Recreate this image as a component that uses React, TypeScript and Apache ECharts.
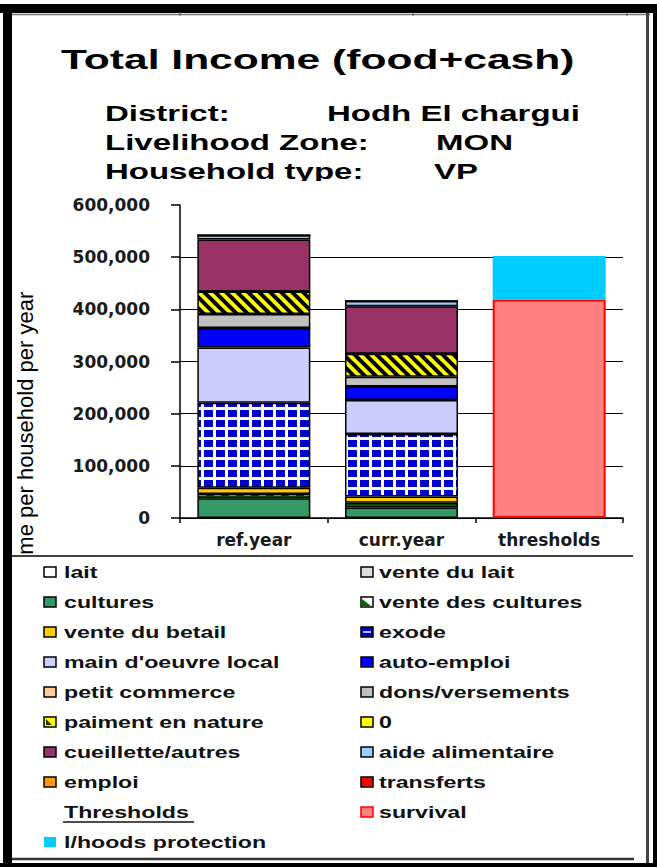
import React, { useEffect, useRef } from 'react';
import * as echarts from 'echarts';

// ---------- data ----------
const categories = ['ref.year', 'curr.year', 'thresholds'];

const lait = [0, 0];
const venteDuLait = [0, 0];
const cultures = [38000, 20000];
const venteDesCultures = [8000, 9000];
const venteDuBetail = [12000, 12000];
const exode = [163000, 120000];
const mainDoeuvreLocal = [106000, 65000];
const autoEmploi = [37000, 26000];
const petitCommerce = [0, 0];
const donsVersements = [27000, 19000];
const paimentEnNature = [43000, 44000];
const zeroSeries = [0, 0];
const cueilletteAutres = [100000, 91000];
const aideAlimentaire = [8000, 10000];
const emploi = [0, 0];
const transferts = [0, 0];

const survival = [419000];
const lhoodsProtection = [83000];

const yTickValues = [0, 100000, 200000, 300000, 400000, 500000, 600000];
const yTickLabels = ['0', '100,000', '200,000', '300,000', '400,000', '500,000', '600,000'];

const incomeSeries: [string, number[]][] = [
  ['lait', lait],
  ['vente du lait', venteDuLait],
  ['cultures', cultures],
  ['vente des cultures', venteDesCultures],
  ['vente du betail', venteDuBetail],
  ['exode', exode],
  ["main d'oeuvre local", mainDoeuvreLocal],
  ['auto-emploi', autoEmploi],
  ['petit commerce', petitCommerce],
  ['dons/versements', donsVersements],
  ['paiment en nature', paimentEnNature],
  ['0', zeroSeries],
  ['cueillette/autres', cueilletteAutres],
  ['aide alimentaire', aideAlimentaire],
  ['emploi', emploi],
  ['transferts', transferts],
];

const thresholdSeries: [string, number[]][] = [
  ['survival', survival],
  ['l/hoods protection', lhoodsProtection],
];

const legendLeft = ['lait', 'cultures', 'vente du betail', "main d'oeuvre local", 'petit commerce', 'paiment en nature', 'cueillette/autres', 'emploi'];
const legendRight = ['vente du lait', 'vente des cultures', 'exode', 'auto-emploi', 'dons/versements', '0', 'aide alimentaire', 'transferts', 'survival'];

// ---------- styles ----------
const colorOf: Record<string, string> = {
  'lait': '#FFFFFF',
  'vente du lait': '#DDDDDD',
  'cultures': '#339966',
  'vente des cultures': '#006600',
  'vente du betail': '#FFCC00',
  'exode': '#0000CC',
  "main d'oeuvre local": '#CCCCFF',
  'auto-emploi': '#0000FF',
  'petit commerce': '#FFCC99',
  'dons/versements': '#C0C0C0',
  'paiment en nature': '#FFFF00',
  '0': '#FFFF00',
  'cueillette/autres': '#993366',
  'aide alimentaire': '#99CCFF',
  'emploi': '#FF9900',
  'transferts': '#FF0000',
  'survival': '#FF8080',
  'l/hoods protection': '#00CCFF',
};

function makeTile(w: number, h: number, draw: (c: CanvasRenderingContext2D) => void): HTMLCanvasElement {
  const cv = document.createElement('canvas');
  cv.width = w;
  cv.height = h;
  const c = cv.getContext('2d') as CanvasRenderingContext2D;
  draw(c);
  return cv;
}

function patternFills(): Record<string, any> {
  const exodeTile = makeTile(12, 10, (c) => {
    c.fillStyle = '#FFFFFF';
    c.fillRect(0, 0, 12, 10);
    c.fillStyle = '#0000CC';
    c.fillRect(0, 0, 9, 7);
  });
  const P = 11;
  const paimentTile = makeTile(P, P, (c) => {
    c.fillStyle = '#FFFF00';
    c.fillRect(0, 0, P, P);
    c.strokeStyle = '#000000';
    c.lineWidth = 4;
    for (let k = -1; k <= 1; k++) {
      c.beginPath();
      c.moveTo(k * P - 2, -2);
      c.lineTo(k * P + P + 2, P + 2);
      c.stroke();
    }
  });
  const vdcTile = makeTile(15, 6, (c) => {
    c.fillStyle = '#006600';
    c.fillRect(0, 0, 15, 6);
    c.fillStyle = '#FFFFFF';
    c.fillRect(4, 2, 7, 2);
  });
  return {
    'exode': { image: exodeTile, repeat: 'repeat' },
    'paiment en nature': { image: paimentTile, repeat: 'repeat' },
    'vente des cultures': { image: vdcTile, repeat: 'repeat' },
  };
}

const LEG_FONT = 'bold 16px "Liberation Sans", Arial, sans-serif';
const LEG_SCALE = 1.45;

function legendItem(name: string, x: number, cy: number, textX: number): any[] {
  const els: any[] = [];
  const noBorder = name === 'l/hoods protection';
  const isSurvival = name === 'survival';
  let fill = colorOf[name];
  if (name === 'vente des cultures') fill = '#FFFFFF';
  els.push({
    type: 'rect', z: 20,
    shape: { x, y: cy - 5, width: 12, height: 10 },
    style: { fill, stroke: noBorder ? null : (isSurvival ? '#FF0000' : '#000'), lineWidth: noBorder ? 0 : 1.5 },
  });
  if (name === 'exode') {
    els.push({ type: 'line', z: 21, shape: { x1: x + 2, y1: cy, x2: x + 10, y2: cy }, style: { stroke: '#FFFFFF', lineWidth: 1.5 } });
  }
  if (name === 'vente des cultures') {
    els.push({ type: 'polygon', z: 21, shape: { points: [[x + 1, cy - 3], [x + 1, cy + 4], [x + 10, cy + 4]] }, style: { fill: '#006600' } });
  }
  if (name === 'paiment en nature') {
    els.push({ type: 'polygon', z: 21, shape: { points: [[x + 2, cy - 3], [x + 8, cy + 3], [x + 2, cy + 3]] }, style: { fill: '#333300' } });
  }
  els.push({
    type: 'text', z: 20, x: textX, y: cy, scaleX: LEG_SCALE,
    style: { text: name, font: LEG_FONT, fill: '#111', align: 'left', verticalAlign: 'middle' },
  });
  return els;
}

function buildGraphic(): any[] {
  const g: any[] = [];
  // frame
  g.push({ type: 'rect', z: 30, shape: { x: 0, y: 4, width: 657, height: 9 }, style: { fill: '#000' } });
  g.push({ type: 'line', z: 30, shape: { x1: 10, y1: 14.5, x2: 650, y2: 14.5 }, style: { stroke: '#777', lineWidth: 1.5 } });
  [180, 413, 627].forEach((tx) => g.push({ type: 'line', z: 30, shape: { x1: tx, y1: 12, x2: tx, y2: 16 }, style: { stroke: '#555', lineWidth: 1 } }));
  g.push({ type: 'rect', z: 30, shape: { x: 3, y: 4, width: 9, height: 863 }, style: { fill: '#000' } });
  g.push({ type: 'rect', z: 30, shape: { x: 646, y: 13, width: 3, height: 854 }, style: { fill: '#444' } });
  g.push({ type: 'rect', z: 30, shape: { x: 653, y: 4, width: 4, height: 863 }, style: { fill: '#000' } });
  g.push({ type: 'line', z: 30, shape: { x1: 12, y1: 859, x2: 634, y2: 859 }, style: { stroke: '#333', lineWidth: 2.5 } });
  g.push({ type: 'rect', z: 30, shape: { x: 0, y: 863, width: 657, height: 4 }, style: { fill: '#000' } });

  // title
  g.push({
    type: 'text', z: 10, x: 61, y: 59, scaleX: 1.52,
    style: { text: 'Total Income (food+cash)', font: 'bold 28px "Liberation Sans", Arial, sans-serif', fill: '#000', align: 'left', verticalAlign: 'middle' },
  });
  const subFont = 'bold 22px "Liberation Sans", Arial, sans-serif';
  const subs: [string, number, string, number][] = [
    ['District:', 114, 'Hodh El chargui', 327],
    ['Livelihood Zone:', 143, 'MON', 436],
    ['Household type:', 172, 'VP', 434],
  ];
  subs.forEach(([a, y, b, bx]) => {
    g.push({ type: 'text', z: 10, x: 105, y, scaleX: 1.5, style: { text: a, font: subFont, fill: '#000', align: 'left', verticalAlign: 'middle' } });
    g.push({ type: 'text', z: 10, x: bx, y, scaleX: 1.5, style: { text: b, font: subFont, fill: '#000', align: 'left', verticalAlign: 'middle' } });
  });
  // clip descenders of last subtitle line
  g.push({ type: 'rect', z: 11, shape: { x: 90, y: 181, width: 480, height: 8 }, style: { fill: '#FFFFFF' } });

  // y axis name (partly hidden behind legend box)
  g.push({
    type: 'text', z: 5, x: 25, y: 444, rotation: Math.PI / 2,
    style: { text: 'Income per household per year', font: '22px "Liberation Sans", Arial, sans-serif', fill: '#000', align: 'center', verticalAlign: 'middle' },
  });

  // legend box
  g.push({ type: 'rect', z: 15, shape: { x: 12, y: 556, width: 634, height: 302 }, style: { fill: '#FFFFFF' } });
  g.push({ type: 'line', z: 16, shape: { x1: 12, y1: 556, x2: 633, y2: 556 }, style: { stroke: '#000', lineWidth: 1.5 } });

  const rowY = (i: number) => 572 + 30 * i;
  legendLeft.forEach((n, i) => g.push(...legendItem(n, 44, rowY(i), 64)));
  legendRight.forEach((n, i) => g.push(...legendItem(n, 361, rowY(i), 379)));
  // Thresholds heading
  g.push({
    type: 'text', z: 20, x: 64, y: rowY(8), scaleX: LEG_SCALE,
    style: { text: 'Thresholds', font: LEG_FONT, fill: '#111', align: 'left', verticalAlign: 'middle' },
  });
  g.push({ type: 'line', z: 20, shape: { x1: 63, y1: rowY(8) + 10, x2: 194, y2: rowY(8) + 10 }, style: { stroke: '#111', lineWidth: 1.5 } });
  g.push(...legendItem('l/hoods protection', 44, rowY(9), 64));
  return g;
}

function buildSeries(): any[] {
  const fills = patternFills();
  const out: any[] = [];
  incomeSeries.forEach(([name, vals]) => {
    out.push({
      name, type: 'bar', stack: 'total', barWidth: 113,
      data: [vals[0], vals[1], '-'],
      itemStyle: { color: fills[name] || colorOf[name], borderColor: '#000', borderWidth: 1.5 },
      emphasis: { disabled: true },
    });
  });
  thresholdSeries.forEach(([name, vals]) => {
    const isSurv = name === 'survival';
    out.push({
      name, type: 'bar', stack: 'total', barWidth: 113,
      data: ['-', '-', vals[0]],
      itemStyle: { color: colorOf[name], borderColor: isSurv ? '#FF0000' : colorOf[name], borderWidth: 2 },
      emphasis: { disabled: true },
    });
  });
  return out;
}

export default function App() {
  const ref = useRef<HTMLDivElement>(null);
  useEffect(() => {
    if (!ref.current) return;
    const chart = echarts.init(ref.current, null, { renderer: 'svg' });
    const labelFont = { fontFamily: '"DejaVu Sans", Verdana, sans-serif', fontWeight: 'bold' as const, fontSize: 17, color: '#1a1a1a' };
    chart.setOption({
      animation: false,
      backgroundColor: '#FFFFFF',
      grid: { left: 180, right: 34, top: 205, bottom: 349, containLabel: false },
      xAxis: {
        type: 'category',
        data: categories,
        axisLine: { lineStyle: { color: '#000', width: 1.5 } },
        axisTick: { show: true, length: 5, lineStyle: { color: '#000', width: 1.5 } },
        axisLabel: { ...labelFont, margin: 13 },
      },
      yAxis: {
        type: 'value',
        min: yTickValues[0],
        max: yTickValues[yTickValues.length - 1],
        interval: yTickValues[1] - yTickValues[0],
        axisLine: { show: true, lineStyle: { color: '#000', width: 1.5 } },
        axisTick: { show: true, length: 9, lineStyle: { color: '#000', width: 1.5 } },
        axisLabel: { ...labelFont, margin: 30, formatter: (v: number) => yTickLabels[yTickValues.indexOf(v)] ?? String(v) },
        splitLine: { show: true, showMaxLine: false, lineStyle: { color: '#000', width: 1.2 } },
      },
      series: buildSeries(),
      graphic: buildGraphic(),
    });
    return () => chart.dispose();
  }, []);
  return <div ref={ref} style={{ position: 'absolute', left: 0, top: 0, width: 657, height: 867, background: '#fff' }} />;
}
